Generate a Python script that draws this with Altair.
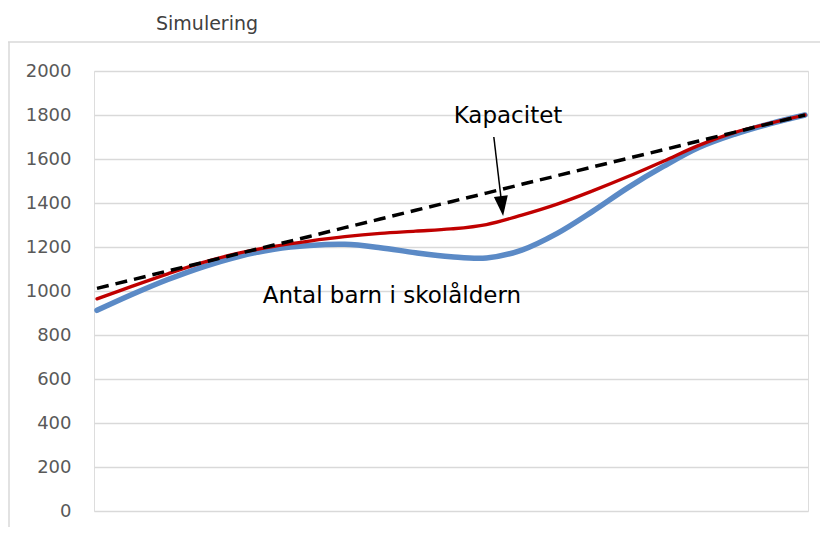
import altair as alt
import pandas as pd

# --- data ---
periods = list(range(21))
antal_barn = [912, 985, 1052, 1110, 1157, 1190, 1207, 1212, 1197, 1174, 1156,
              1150, 1186, 1262, 1362, 1470, 1566, 1652, 1712, 1760, 1800]
kapacitet = [964, 1022, 1078, 1130, 1172, 1203, 1227, 1247, 1262, 1272, 1282,
             1302, 1345, 1395, 1455, 1520, 1590, 1662, 1720, 1762, 1800]
trend = [1012, 1051, 1091, 1130, 1170, 1209, 1248, 1288, 1327, 1367, 1406,
         1445, 1485, 1524, 1564, 1603, 1642, 1682, 1721, 1761, 1800]
y_ticks = [0, 200, 400, 600, 800, 1000, 1200, 1400, 1600, 1800, 2000]

ann_text = ["Kapacitet", "Antal barn i skolåldern"]
ann_x = [11.61, 8.33]
ann_y = [1764, 945]

arrow_x = [11.21, 11.44]
arrow_y = [1700, 1386]

FONT = "DejaVu Sans"

df_blue = pd.DataFrame({"t": periods, "v": antal_barn})
df_red = pd.DataFrame({"t": periods, "v": kapacitet})
df_trend = pd.DataFrame({"t": periods, "v": trend})
df_ann = pd.DataFrame({"t": ann_x, "v": ann_y, "label": ann_text})
df_arrow = pd.DataFrame({"t": arrow_x, "v": arrow_y, "order": [0, 1]})
df_head = df_arrow.iloc[[1]]

xscale = alt.Scale(domain=[-0.085, 20.085], nice=False, zero=False)
yscale = alt.Scale(domain=[0, 2000], nice=False)

x_enc = alt.X("t:Q", scale=xscale, axis=None)
y_enc = alt.Y(
    "v:Q",
    scale=yscale,
    axis=alt.Axis(
        values=y_ticks,
        format="d",
        title=None,
        domain=False,
        ticks=False,
        grid=True,
        gridColor="#d9d9d9",
        gridWidth=1.5,
        labelFont=FONT,
        labelFontSize=18,
        labelColor="#595959",
        labelPadding=23,
    ),
)

blue = alt.Chart(df_blue).mark_line(
    color="#5b8ac6", strokeWidth=5.5, interpolate="catmull-rom", strokeCap="round"
).encode(x=x_enc, y=y_enc)

red = alt.Chart(df_red).mark_line(
    color="#c00000", strokeWidth=3.3, interpolate="catmull-rom", strokeCap="round"
).encode(x=x_enc, y=y_enc)

dashed = alt.Chart(df_trend).mark_line(
    color="black", strokeWidth=3.5, strokeDash=[12, 7]
).encode(x=x_enc, y=y_enc)

ann = alt.Chart(df_ann).mark_text(
    font=FONT, fontSize=23, color="black", align="center", baseline="alphabetic"
).encode(x="t:Q", y="v:Q", text="label:N")

arrow_line = alt.Chart(df_arrow).mark_line(color="black", strokeWidth=1.5).encode(
    x="t:Q", y="v:Q", order="order:Q"
)
arrow_head = alt.Chart(df_head).mark_point(
    shape="M-0.7,-1L0.7,-1L0,1Z", size=400, filled=True, color="black",
    opacity=1, angle=353.5,
).encode(x="t:Q", y="v:Q")

frame_left = alt.Chart(df_head).mark_rule(color="#d9d9d9", strokeWidth=1.5).encode(
    x=alt.value(-85), y=alt.value(-29), y2=alt.value(470)
)
frame_top = alt.Chart(df_head).mark_rule(color="#d9d9d9", strokeWidth=1.5).encode(
    x=alt.value(-86), x2=alt.value(730), y=alt.value(-29)
)

chart = alt.layer(
    frame_left, frame_top, blue, red, dashed, arrow_line, arrow_head, ann
).properties(
    width=714,
    height=440,
    autosize=alt.AutoSizeParams(type="none"),
    padding={"left": 86, "top": 63, "right": 12, "bottom": 16},
    title=alt.TitleParams(
        "Simulering",
        anchor="start",
        frame="group",
        dx=62,
        dy=22,
        offset=14,
        baseline="alphabetic",
        font=FONT,
        fontSize=19,
        fontWeight="normal",
        color="#404040",
    ),
).configure_view(stroke=None).configure(background="white")

chart.save("out.html", embed_options={"renderer": "svg", "actions": False})
